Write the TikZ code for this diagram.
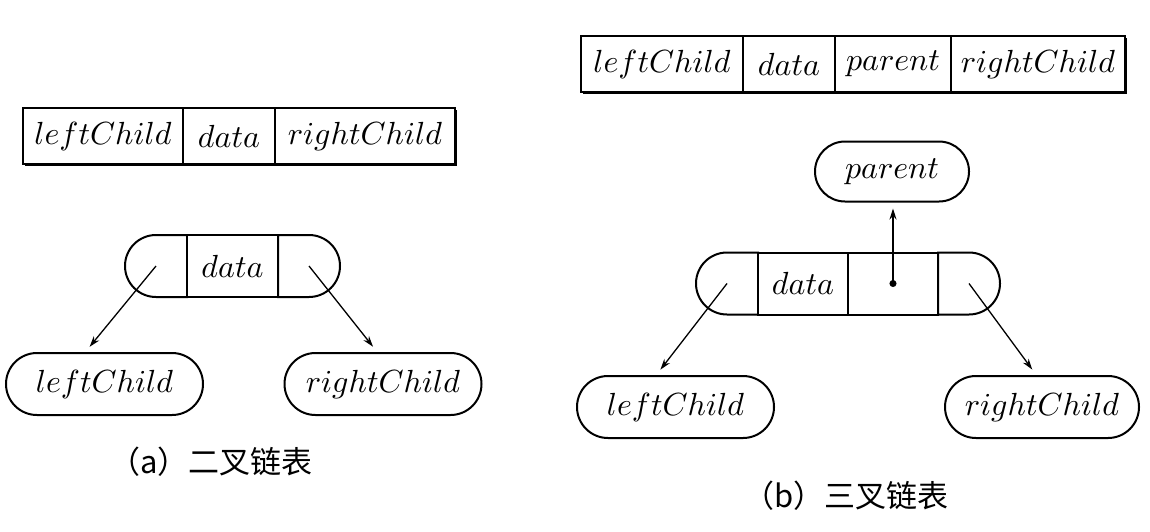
\documentclass[tikz,border=0pt]{standalone}
\usepackage{fontspec}
\newfontfamily\cjk{Noto Sans CJK SC}
\DeclareFontShape{OML}{cmm}{m}{it}{<->cmmi10}{}
\usepackage{tikz}
\usetikzlibrary{arrows.meta,positioning,shapes.misc,shadows}
\tikzstyle{cell}=[
	draw=black,
	line width=2pt,
	fill=white,
	inner sep=0pt,
	outer sep=0pt,
	minimum height=56pt,
	font=\fontsize{32}{38}\selectfont
]
\tikzstyle{tab}=[
	cell,
	drop shadow={shadow xshift=2pt,shadow yshift=-2pt,fill=black,opacity=1}
]
\tikzstyle{box}=[
	cell,
	minimum height=62pt
]
\tikzstyle{capl}=[
	box,
	rounded rectangle,
	rounded rectangle right arc=none
]
\tikzstyle{capr}=[
	box,
	rounded rectangle,
	rounded rectangle left arc=none
]
\tikzstyle{oval}=[
	box,
	rounded rectangle,
	minimum width=197pt
]
\tikzstyle{ptr}=[
	-{Stealth[length=11pt,width=7pt]},
	line width=1.3pt,
	shorten >=8pt,
	draw=black
]
\tikzstyle{dot}=[
	circle,
	fill=black,
	inner sep=2.5pt
]
\tikzstyle{caption}=[
	font=\cjk\fontsize{31}{36}\selectfont
]

\begin{document}
\begin{tikzpicture}[x=1pt,y=-1pt]
                \useasboundingbox (0,0) rectangle (1150,531);
\node[tab, minimum width=160pt] (a1) at (103,136) {$leftChild$};
\node[tab, minimum width=92pt, right=0pt of a1] (a2) {$data$};
\node[tab, minimum width=180pt, right=0pt of a2] (a3) {$rightChild$};

\node[capl, minimum width=60pt] (n1) at (156,266) {};
\node[box, minimum width=91pt, right=0pt of n1] (n2) {$data$};
\node[capr, minimum width=60pt, right=0pt of n2] (n3) {};
\node[oval] (l1) at (104.5,384) {$leftChild$};
\node[oval] (r1) at (383,384) {$rightChild$};
\node[caption] (c1) at (211,462) {（a）二叉链表};

\node[tab, minimum width=162pt] (b1) at (662,64) {$leftChild$};
\node[tab, minimum width=92pt, right=0pt of b1] (b2) {$data$};
\node[tab, minimum width=116pt, right=0pt of b2] (b3) {$parent$};
\node[tab, minimum width=174pt, right=0pt of b3] (b4) {$rightChild$};

\node[capl, minimum width=60pt] (m1) at (727,283.5) {};
\node[box, minimum width=90pt, right=0pt of m1] (m2) {$data$};
\node[box, minimum width=90pt, right=0pt of m2] (m3) {};
\node[capr, minimum width=59pt, right=0pt of m3] (m4) {};
\node[dot] (d) at (m3) {};
\node[oval, minimum width=154pt, minimum height=60pt] (p) at (892,171.5) {$parent$};
\node[oval] (l2) at (675.5,407) {$leftChild$};
\node[oval, minimum width=194pt] (r2) at (1042,407) {$rightChild$};
\node[caption] (c2) at (846,496) {（b）三叉链表};

\draw[ptr] (n1.center) -- ([xshift=-20pt]l1.north);
\draw[ptr] (n3.center) -- ([xshift=-5pt]r1.north);
\draw[ptr] (m1.center) -- ([xshift=-20pt]l2.north);
\draw[ptr] (m4.center) -- ([xshift=-5pt]r2.north);
\draw[ptr, shorten >=7pt] (d.center) -- (d.center |- p.south);


            \end{tikzpicture}
\end{document}
